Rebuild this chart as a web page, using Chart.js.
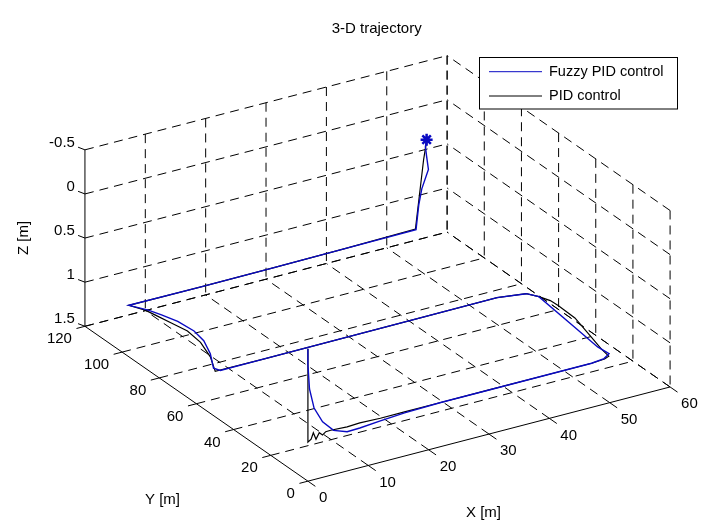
<!DOCTYPE html>
<html>
<head>
<meta charset="utf-8">
<script src="https://cdn.jsdelivr.net/npm/chart.js@4.4.0/dist/chart.umd.min.js"></script>
<style>
  html, body { margin: 0; padding: 0; background: #fff; overflow: hidden; }
  canvas { display: block; }
</style>
</head>
<body>
<canvas id="chart" width="716" height="531"></canvas>
<script>
// axis ticks
const xTicks = [0, 10, 20, 30, 40, 50, 60];
const yTicks = [0, 20, 40, 60, 80, 100, 120];
const zTicks = [-0.5, 0, 0.5, 1, 1.5];
const zTickLabels = ['-0.5', '0', '0.5', '1', '1.5'];

// Fuzzy PID control trajectory (X, Y, Z in m)
const fuzzyX = [0, 0, 0.26, 1.02, 2.43, 4.25, 6.5, 8.6, 12, 16,
    22, 30, 40, 47, 49.3, 50.75, 50.55, 51.2, 52.2, 51.2,
    47, 35, 20, 8, 1, 0.57, 2.7, 4.17, 4.68, 4.38,
    3.54, 2.8, 1.27, 13, 25, 37, 49, 49.3, 49.8, 50.9,
    50.6, 50.4, 50.6];
const fuzzyY = [0, 0, 0, 0, 0, 0, 0, 0, 0, 0,
    0, 0, 0, 0, 0.8, 2.8, 8.3, 22.6, 45.3, 48.8,
    50.9, 50.7, 50.6, 50.5, 50.4, 52.65, 61.3, 69.6, 76.5, 84.3,
    90.3, 95, 100.5, 100.3, 100.5, 100.8, 101, 100.5, 100.5, 100.5,
    100.5, 100.5, 100.5];
const fuzzyZ = [0, 0.18, 0.46, 0.69, 0.87, 1.0, 1.055, 1.05, 1.03, 1.01,
    1, 1, 1, 1, 1, 1, 1, 1, 1, 1,
    1, 1, 1, 1, 1, 1, 1, 1, 1, 1,
    1, 1, 1, 1, 1, 1, 1, 0.716, 0.543, 0.342,
    0.19, 0.076, 0];

// PID control trajectory
const pidX = [0, 0, 0.53, 0.9, 1.34, 1.88, 2.43, 2.96, 3.77, 6.5,
    8.6, 12, 16, 22, 30, 40, 47, 49.3, 50.3, 50.65,
    51.5, 52.85, 53, 52.9, 52.2, 51.2, 47, 35, 20, 8,
    0.22, 2.15, 3.48, 3.87, 3.32, 2.76, 2.41, 1.27, 13, 25,
    37, 48.75, 50.1, 50.53, 50.6];
const pidY = [0, 0, 0, 0, 0, 0, 0, 0, 0, 0,
    0, 0, 0, 0, 0, 0, 0, 0.5, 1.5, 6.67,
    14.66, 28, 37.5, 41.4, 45.3, 48.8, 50.9, 50.7, 50.6, 50.5,
    50.6, 59.5, 69.1, 77.4, 84.3, 91.3, 95.4, 100.5, 100.3, 100.5,
    100.8, 100.5, 100.5, 100.5, 100.5];
const pidZ = [0, 1.057, 1.034, 0.967, 1.048, 0.984, 1.02, 0.992, 0.99, 1.0,
    0.993, 1, 1, 1, 1, 1, 1, 1, 1, 1,
    1, 1, 1, 1, 1, 1, 1, 1, 1, 1,
    1, 1, 1, 1, 1, 1, 1, 1, 1, 1,
    1, 0.98, 0.219, 0.043, 0];

// view: pixel position of the box corner (xMin, yMin, zMax) and one unit step per axis
const X_MIN = 0, X_MAX = 60, Y_MIN = 0, Y_MAX = 120, Z_MIN = -0.5, Z_MAX = 1.5;
const origin = [306.7, 488.3];
const ex = [6.183, -1.622];
const ey = [-1.9033, -1.3333];
const ez = [0, 91.15];

function proj(x, y, z) {
    return {
        x: origin[0] + x * ex[0] + y * ey[0] + (z - Z_MAX) * ez[0],
        y: origin[1] + x * ex[1] + y * ey[1] + (z - Z_MAX) * ez[1]
    };
}

function toPoints(xs, ys, zs) {
    const n = Math.min(xs.length, ys.length, zs.length);
    const pts = [];
    for (let i = 0; i < n; i++) pts.push(proj(xs[i], ys[i], zs[i]));
    return pts;
}

const FONT = '"Liberation Sans", Arial, Helvetica, sans-serif';
const BLUE = 'rgb(10,10,195)';

// grid, axes, labels and legend of the 3-D box
const box3d = {
    id: 'box3d',
    beforeDatasetsDraw(chart) {
        const ctx = chart.ctx;
        const sx = chart.scales.x, sy = chart.scales.y;
        const px = p => [sx.getPixelForValue(p.x), sy.getPixelForValue(p.y)];

        function seg(a, b, dashed) {
            const p1 = px(a), p2 = px(b);
            ctx.save();
            ctx.strokeStyle = '#000';
            ctx.lineWidth = 1;
            ctx.setLineDash(dashed ? [9, 6] : []);
            ctx.beginPath();
            ctx.moveTo(p1[0], p1[1]);
            ctx.lineTo(p2[0], p2[1]);
            ctx.stroke();
            ctx.restore();
        }

        // floor grid (z = Z_MAX)
        xTicks.forEach(t => {
            if (t !== X_MIN) seg(proj(t, Y_MIN, Z_MAX), proj(t, Y_MAX, Z_MAX), true);
        });
        yTicks.forEach(t => {
            if (t !== Y_MIN) seg(proj(X_MIN, t, Z_MAX), proj(X_MAX, t, Z_MAX), true);
        });
        // back wall (y = Y_MAX)
        xTicks.forEach(t => {
            if (t !== X_MIN) seg(proj(t, Y_MAX, Z_MIN), proj(t, Y_MAX, Z_MAX), true);
        });
        zTicks.forEach(t => seg(proj(X_MIN, Y_MAX, t), proj(X_MAX, Y_MAX, t), true));
        // side wall (x = X_MAX)
        yTicks.forEach(t => seg(proj(X_MAX, t, Z_MIN), proj(X_MAX, t, Z_MAX), true));
        zTicks.forEach(t => seg(proj(X_MAX, Y_MIN, t), proj(X_MAX, Y_MAX, t), true));

        // axis lines
        seg(proj(X_MIN, Y_MIN, Z_MAX), proj(X_MAX, Y_MIN, Z_MAX), false);
        seg(proj(X_MIN, Y_MIN, Z_MAX), proj(X_MIN, Y_MAX, Z_MAX), false);
        seg(proj(X_MIN, Y_MAX, Z_MIN), proj(X_MIN, Y_MAX, Z_MAX), false);

        // ticks
        xTicks.forEach(t => seg(proj(t, Y_MIN, Z_MAX), proj(t, Y_MIN - 4, Z_MAX), false));
        yTicks.forEach(t => seg(proj(X_MIN, t, Z_MAX), proj(X_MIN - 1.4, t, Z_MAX), false));
        zTicks.forEach(t => seg(proj(X_MIN, Y_MAX, t), proj(X_MIN - 0.37, Y_MAX + 2.5, t), false));

        // tick labels
        ctx.save();
        ctx.fillStyle = '#000';
        ctx.font = '15px ' + FONT;
        ctx.textBaseline = 'middle';
        ctx.textAlign = 'left';
        xTicks.forEach(t => {
            const p = px(proj(t, Y_MIN, Z_MAX));
            ctx.fillText(String(t), p[0] + 11, p[1] + 17);
        });
        ctx.textAlign = 'right';
        yTicks.forEach(t => {
            const p = px(proj(X_MIN, t, Z_MAX));
            ctx.fillText(String(t), p[0] - 13, p[1] + 13);
        });
        zTicks.forEach((t, i) => {
            const p = px(proj(X_MIN, Y_MAX, t));
            ctx.fillText(zTickLabels[i], p[0] - 10, p[1] - 7);
        });

        // axis labels and title
        ctx.textAlign = 'center';
        ctx.fillText('X [m]', 483.5, 513);
        ctx.fillText('Y [m]', 162.5, 500);
        ctx.save();
        ctx.translate(24, 238);
        ctx.rotate(-Math.PI / 2);
        ctx.fillText('Z [m]', 0, 0);
        ctx.restore();
        ctx.fillText('3-D trajectory', 376.7, 29);
        ctx.restore();
    },
    afterDatasetsDraw(chart) {
        const ctx = chart.ctx;
        const ds = chart.data.datasets.filter(d => d.label);
        ctx.save();
        ctx.fillStyle = '#fff';
        ctx.fillRect(479.5, 57.5, 198, 51.5);
        ctx.strokeStyle = '#000';
        ctx.lineWidth = 1;
        ctx.strokeRect(479.5, 57.5, 198, 51.5);
        ctx.font = '14.5px ' + FONT;
        ctx.textAlign = 'left';
        ctx.textBaseline = 'middle';
        ds.forEach((d, i) => {
            const y = 71.7 + i * 24.3;
            ctx.strokeStyle = d.borderColor;
            ctx.lineWidth = 1;
            ctx.beginPath();
            ctx.moveTo(489, y);
            ctx.lineTo(542, y);
            ctx.stroke();
            ctx.fillStyle = '#000';
            ctx.fillText(d.label, 549, y);
        });
        ctx.restore();
    }
};

const fuzzyPts = toPoints(fuzzyX, fuzzyY, fuzzyZ);
const pidPts = toPoints(pidX, pidY, pidZ);
const endPt = fuzzyPts[fuzzyPts.length - 1];

new Chart(document.getElementById('chart'), {
    type: 'scatter',
    data: {
        datasets: [
            {
                label: '',
                data: [endPt],
                showLine: false,
                pointStyle: 'star',
                pointRadius: 6,
                borderColor: BLUE,
                borderWidth: 2.5,
                backgroundColor: BLUE
            },
            {
                label: 'Fuzzy PID control',
                data: fuzzyPts,
                showLine: true,
                borderColor: BLUE,
                borderWidth: 1.4,
                pointRadius: 0,
                fill: false,
                tension: 0
            },
            {
                label: 'PID control',
                data: pidPts,
                showLine: true,
                borderColor: '#000',
                borderWidth: 1.2,
                pointRadius: 0,
                fill: false,
                tension: 0
            }
        ]
    },
    options: {
        responsive: false,
        animation: false,
        layout: { padding: 0 },
        plugins: {
            legend: { display: false },
            title: { display: false },
            tooltip: { enabled: false }
        },
        scales: {
            x: { type: 'linear', min: 0, max: 716, display: false },
            y: { type: 'linear', min: 0, max: 531, reverse: true, display: false }
        }
    },
    plugins: [box3d]
});
</script>
</body>
</html>
